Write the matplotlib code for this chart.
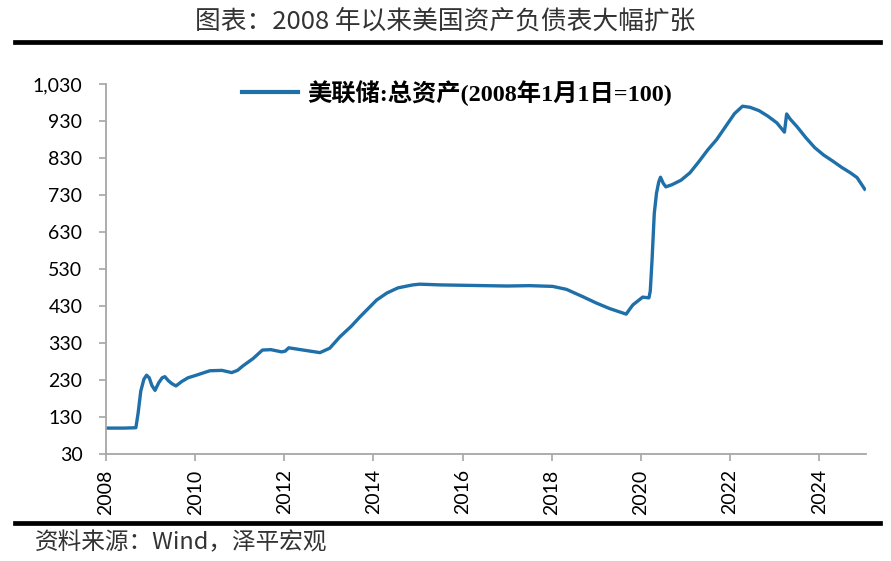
"""美联储总资产 (2008年1月1日=100) 走势图复刻."""
import matplotlib
matplotlib.use("Agg")
import matplotlib.pyplot as plt
from matplotlib.lines import Line2D

plt.rcParams["font.family"] = ["Lato", "Noto Sans CJK SC", "DejaVu Sans"]
plt.rcParams["axes.unicode_minus"] = False

TITLE = "图表：2008 年以来美国资产负债表大幅扩张"
SOURCE = "资料来源：Wind，泽平宏观"
SERIES_NAME = "美联储:总资产(2008年1月1日=100)"

# 时间(年, 小数) 与 指数值
years = [
    2008.00, 2008.40, 2008.67, 2008.72, 2008.78, 2008.85, 2008.91, 2008.97, 2009.03, 2009.10,
    2009.18, 2009.26, 2009.32, 2009.40, 2009.48, 2009.57, 2009.70, 2009.84, 2010.00, 2010.33,
    2010.60, 2010.82, 2010.95, 2011.07, 2011.30, 2011.51, 2011.70, 2011.94, 2012.02, 2012.10,
    2012.42, 2012.80, 2013.02, 2013.25, 2013.50, 2013.70, 2014.07, 2014.30, 2014.55, 2014.88,
    2015.04, 2015.50, 2016.00, 2016.50, 2017.00, 2017.50, 2018.02, 2018.33, 2018.70, 2019.00,
    2019.30, 2019.67, 2019.74, 2019.82, 2020.04, 2020.18, 2020.21, 2020.25, 2020.30, 2020.35,
    2020.40, 2020.44, 2020.50, 2020.56, 2020.70, 2020.90, 2021.10, 2021.30, 2021.50, 2021.70,
    2021.90, 2022.10, 2022.28, 2022.45, 2022.65, 2022.85, 2023.05, 2023.22, 2023.27, 2023.35,
    2023.50, 2023.70, 2023.90, 2024.10, 2024.30, 2024.50, 2024.70, 2024.85, 2025.02,
]
values = [
    100, 100, 101, 140, 200, 232, 243, 236, 215, 202,
    222, 236, 239, 228, 220, 214, 226, 236, 242, 255,
    256, 250, 256, 268, 288, 311, 312, 306, 308, 317,
    311, 304, 316, 347, 375, 401, 446, 465, 479, 487,
    489, 487, 486, 485, 484, 485, 483, 475, 455, 438,
    423, 408, 420, 433, 454, 452, 470, 554, 680, 735,
    765, 778, 762, 752, 758, 770, 790, 820, 852, 880,
    915, 950, 970, 967, 958, 943, 925, 900, 949, 935,
    915, 885, 858, 838, 822, 805, 790, 777, 746,
]

y_ticks = [30, 130, 230, 330, 430, 530, 630, 730, 830, 930, 1030]
x_ticks = [2008, 2010, 2012, 2014, 2016, 2018, 2020, 2022, 2024]

LINE_C = "#1f6fa8"
AXIS_C = "#a6a6a6"

fig = plt.figure(figsize=(8.91, 5.61), dpi=100)
ax = fig.add_axes([106 / 891, 1 - 454 / 561, (866 - 106) / 891, (454 - 84) / 561])

ax.plot(years, values, color=LINE_C, lw=2.4, solid_joinstyle="round")

ax.set_xlim(2008, 2025.05)
ax.set_ylim(y_ticks[0], y_ticks[-1])
ax.set_yticks(y_ticks)
ax.set_yticklabels([f"{v:,}" for v in y_ticks])
ax.set_xticks(x_ticks)
ax.set_xticklabels([str(x) for x in x_ticks], rotation=90)

for s in ("top", "right"):
    ax.spines[s].set_visible(False)
for s in ("left", "bottom"):
    ax.spines[s].set_color(AXIS_C)
    ax.spines[s].set_linewidth(1.3)
ax.tick_params(axis="both", direction="out", length=5, width=1.2, color=AXIS_C,
               labelsize=14, labelcolor="black")
ax.tick_params(axis="y", pad=12)
ax.tick_params(axis="x", pad=6)

# 图例 (居中置顶)
handle = Line2D([], [], color=LINE_C, lw=3)
ax.legend([handle], [SERIES_NAME], loc="upper center", bbox_to_anchor=(0.462, 1.07),
          frameon=False, handlelength=2.3, handletextpad=0.4,
          prop={"family": ["Liberation Serif", "Noto Sans CJK SC"], "weight": "bold", "size": 17.5})

# 标题与分隔线
fig.text(0.5, 1 - 22 / 561, TITLE, ha="center", va="center", fontsize=18.5, color="#333333",
         family=["Noto Sans CJK SC", "DejaVu Sans"], fontweight="light")
fig.add_artist(Line2D([15 / 891, 880 / 891], [1 - 42 / 561] * 2, color="black", lw=3.4,
                      transform=fig.transFigure))
fig.add_artist(Line2D([15 / 891, 880 / 891], [1 - 523 / 561] * 2, color="black", lw=3.4,
                      transform=fig.transFigure))
fig.text(35 / 891, 1 - 543 / 561, SOURCE, ha="left", va="center", fontsize=17, color="#333333",
         family=["Noto Sans CJK SC", "DejaVu Sans"], fontweight="light", style="italic")

fig.savefig("out.png", dpi=100)
